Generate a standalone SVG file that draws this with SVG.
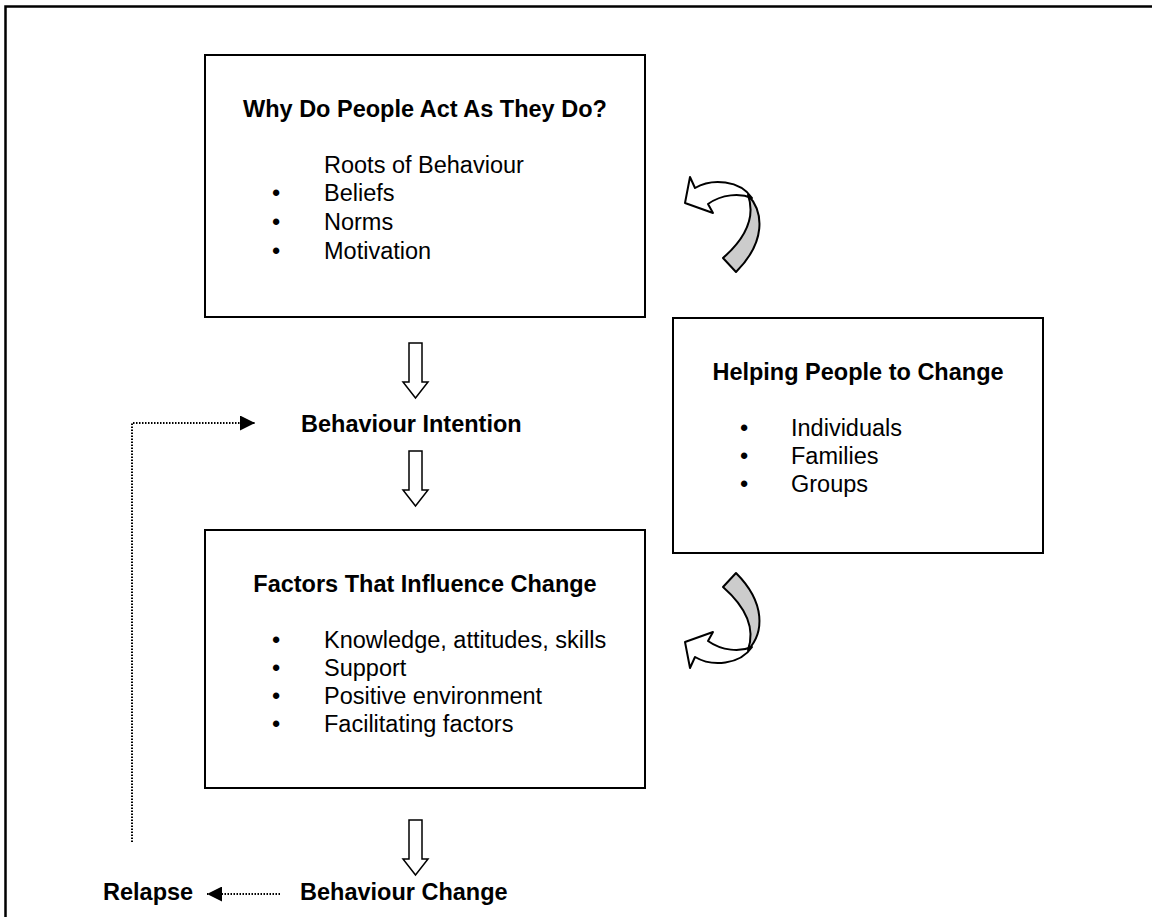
<svg xmlns="http://www.w3.org/2000/svg" width="1152" height="917" viewBox="0 0 1152 917">
<style>
text{font-family:"Liberation Sans",Arial,sans-serif;font-size:23.5px;fill:#000}
.b{font-weight:bold}
.box{fill:#fff;stroke:#000;stroke-width:2}
.blk{fill:#fff;stroke:#000;stroke-width:1.5}
.dot{fill:none;stroke:#000;stroke-width:2;stroke-dasharray:1.5 1.5}
</style>
<defs>
<marker id="ah" viewBox="0 0 10 10" refX="10" refY="5" markerWidth="17" markerHeight="15" markerUnits="userSpaceOnUse" orient="auto"><path d="M0,0L10,5L0,10Z" fill="#000"/></marker>
<path id="dn" d="M-6.5,0H6.5V39H12.5L0,55L-12.5,39H-6.5Z"/>
<g id="curl">
<path d="M708,204L713,213L685,203L690,177L695,188C712,178 740,180 752,198C740,193 722,194 708,204Z" fill="#fff" stroke="#000" stroke-width="2" stroke-linejoin="round"/>
<path d="M748,195C764,212 766,242 736,272L723,258C748,236 755,215 748,195Z" fill="#ccc" stroke="#000" stroke-width="2" stroke-linejoin="round"/>
</g>
</defs>
<path d="M5.5,917V6.5H1152" fill="none" stroke="#000" stroke-width="2.5"/>
<g id="node-why">
<rect class="box" x="205" y="55" width="440" height="262"/>
<text class="b" x="243" y="117">Why Do People Act As They Do?</text>
<text x="324" y="173">Roots of Behaviour</text>
<text x="272" y="201">•</text><text x="324" y="201">Beliefs</text>
<text x="272" y="230">•</text><text x="324" y="230">Norms</text>
<text x="272" y="259">•</text><text x="324" y="259">Motivation</text>
</g>
<g id="node-intention">
<text class="b" x="301" y="432">Behaviour Intention</text>
</g>
<g id="node-factors">
<rect class="box" x="205" y="530" width="440" height="258"/>
<text class="b" x="425" y="592" text-anchor="middle">Factors That Influence Change</text>
<text x="272" y="648">•</text><text x="324" y="648">Knowledge, attitudes, skills</text>
<text x="272" y="676">•</text><text x="324" y="676">Support</text>
<text x="272" y="704">•</text><text x="324" y="704">Positive environment</text>
<text x="272" y="732">•</text><text x="324" y="732">Facilitating factors</text>
</g>
<g id="node-helping">
<rect class="box" x="673" y="318" width="370" height="235"/>
<text class="b" x="858" y="380" text-anchor="middle">Helping People to Change</text>
<text x="740" y="436">•</text><text x="791" y="436">Individuals</text>
<text x="740" y="464">•</text><text x="791" y="464">Families</text>
<text x="740" y="492">•</text><text x="791" y="492">Groups</text>
</g>
<g id="node-change">
<text class="b" x="300" y="900">Behaviour Change</text>
</g>
<g id="node-relapse">
<text class="b" x="103" y="900">Relapse</text>
</g>
<g id="connectors">
<use href="#dn" class="blk" x="415.5" y="343"/>
<use href="#dn" class="blk" x="415.5" y="451"/>
<use href="#dn" class="blk" x="415.5" y="820"/>
<path class="dot" d="M132,842V423H255" marker-end="url(#ah)"/>
<path class="dot" d="M280,894H207" marker-end="url(#ah)"/>
<use href="#curl"/>
<use href="#curl" transform="translate(0,845) scale(1,-1)"/>
</g>
</svg>
